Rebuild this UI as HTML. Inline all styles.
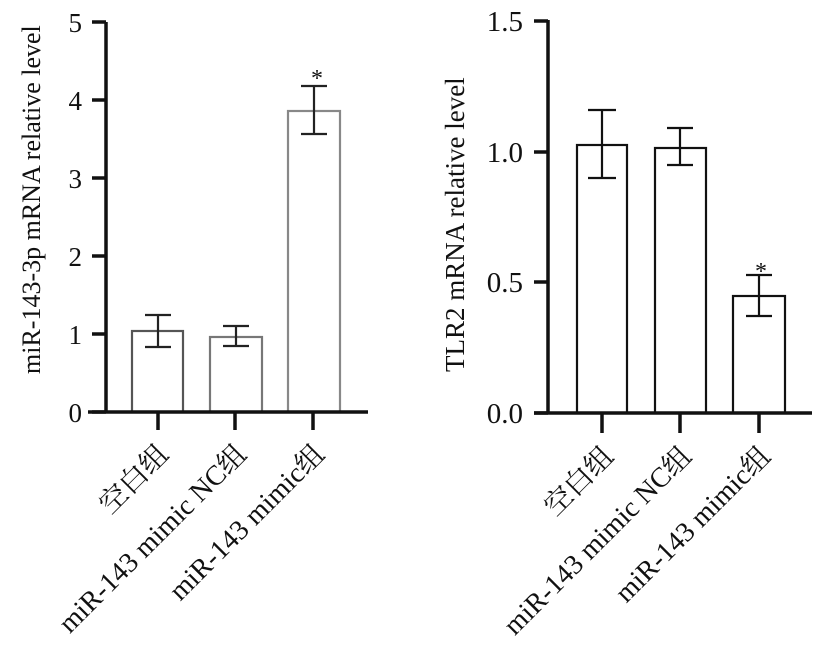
<!DOCTYPE html>
<html><head><style>body{margin:0;background:#fff}svg{display:block}</style></head><body>
<svg width="827" height="659" xmlns="http://www.w3.org/2000/svg" font-family="Liberation Serif, 'Noto Serif CJK SC', serif" fill="none" stroke="#111">
<!-- LEFT -->
<g stroke-width="2.2">
<rect x="132" y="331" width="51" height="81" stroke="#555"/>
<rect x="210" y="337" width="52" height="75" stroke="#777"/>
<rect x="288" y="111" width="52" height="301" stroke="#888"/>
</g>
<g stroke-width="2.2" stroke="#222">
<path d="M158 315V347M145 315H171M145 347H171"/>
<path d="M236 326V346M223 326H249M223 346H249"/>
<path d="M314 86V134M301 86H327M301 134H327"/>
</g>
<g stroke-width="3.5">
<path d="M106 22V413M88 412H368"/>
<path d="M92 22H106M92 100H106M92 178H106M92 256H106M92 334H106M92 412H106"/>
<path d="M158 412V430M235 412V430M313 412V430"/>
</g>
<g fill="#111" stroke="none" font-size="27" text-anchor="end">
<text x="82" y="32">5</text><text x="82" y="110">4</text><text x="82" y="188">3</text><text x="82" y="266">2</text><text x="82" y="344">1</text><text x="82" y="422">0</text>
<text x="317" y="86" font-size="24" text-anchor="middle">*</text>
<text transform="translate(40,374) rotate(-90)" text-anchor="start" font-size="26">miR-143-3p mRNA relative level</text>
<text transform="translate(170,456) rotate(-45)" font-size="28">空白组</text>
<text transform="translate(248,456) rotate(-45)" font-size="28">miR-143 mimic NC组</text>
<text transform="translate(326,456) rotate(-45)" font-size="28">miR-143 mimic组</text>
</g>
<!-- RIGHT -->
<g stroke-width="2.2">
<rect x="577" y="145" width="50" height="268"/>
<rect x="655" y="148" width="51" height="265"/>
<rect x="733" y="296" width="52" height="117"/>
</g>
<g stroke-width="2.2">
<path d="M602 110V178M588 110H616M588 178H616"/>
<path d="M680 128V165M667 128H693M667 165H693"/>
<path d="M759 275V316M746 275H772M746 316H772"/>
</g>
<g stroke-width="3.5">
<path d="M548 20V414M534 413H812"/>
<path d="M534 21H548M534 152H548M534 282H548M534 413H548"/>
<path d="M602 413V433M680 413V433M759 413V433"/>
</g>
<g fill="#111" stroke="none" font-size="29" text-anchor="end">
<text x="523" y="31">1.5</text><text x="523" y="162">1.0</text><text x="523" y="292">0.5</text><text x="523" y="423">0.0</text>
<text x="761" y="279" font-size="24" text-anchor="middle">*</text>
<text transform="translate(464,372) rotate(-90)" text-anchor="start" font-size="27">TLR2 mRNA relative level</text>
<text transform="translate(615,458) rotate(-45)" font-size="28">空白组</text>
<text transform="translate(693,458) rotate(-45)" font-size="28">miR-143 mimic NC组</text>
<text transform="translate(772,458) rotate(-45)" font-size="28">miR-143 mimic组</text>
</g>
</svg>
</body></html>
